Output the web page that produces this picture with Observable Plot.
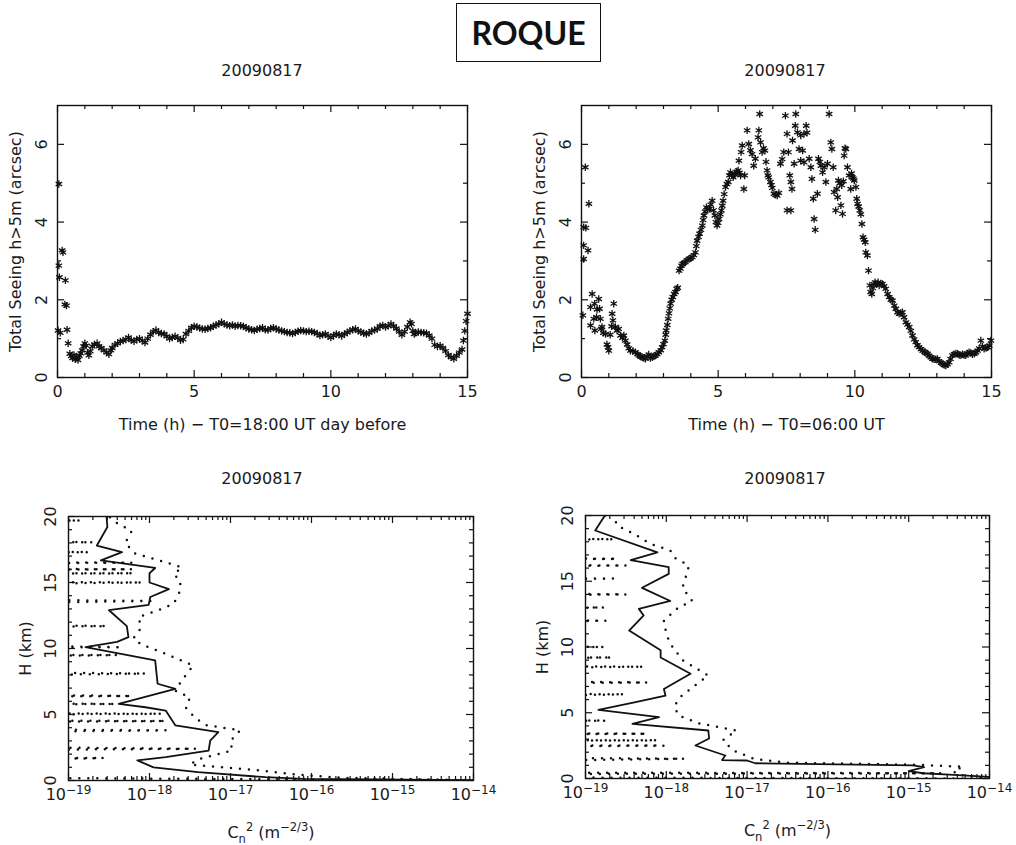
<!DOCTYPE html>
<html><head><meta charset="utf-8">
<script src="https://cdn.jsdelivr.net/npm/d3@7"></script>
<script src="https://cdn.jsdelivr.net/npm/@observablehq/plot@0.6"></script>
<style>
body{margin:0;background:#fff;}
#page{position:relative;width:1016px;height:845px;overflow:hidden;font-family:"DejaVu Sans",sans-serif;color:#1a1a1a;background:#fff;}
.panel{position:absolute;}
.sub{position:absolute;font-size:16px;transform:translate(-50%,-50%);white-space:nowrap;}
#title{position:absolute;left:456px;top:3px;width:143px;height:57px;border:1.5px solid #111;font-family:Lato,"Open Sans",sans-serif;font-weight:700;font-size:32px;display:flex;align-items:center;justify-content:center;color:#111;}
</style></head>
<body><div id="page">
<div id="title">ROQUE</div>
<div class="sub" style="left:262px;top:70px">20090817</div>
<div class="sub" style="left:785px;top:70px">20090817</div>
<div class="sub" style="left:262px;top:478px">20090817</div>
<div class="sub" style="left:785px;top:478px">20090817</div>
</div>
<script>
// ---------- data ----------
// Total seeing (arcsec) vs time (h), night (T0 = 18:00 UT day before)
const seeingNight = [[0.02,1.21],[0.05,4.98],[0.05,2.88],[0.07,2.58],[0.1,1.15],[0.17,3.27],[0.2,3.22],[0.27,1.88],[0.29,2.5],[0.33,1.85],[0.35,1.23],[0.39,0.88],
[0.45,0.61],[0.5,0.55],[0.55,0.5],[0.6,0.58],[0.65,0.47],[0.7,0.52],[0.75,0.45],[0.8,0.56],[0.85,0.62],[0.9,0.7],[0.95,0.8],[1.0,0.88],[1.05,0.82],[1.1,0.64],[1.15,0.57],[1.2,0.68],[1.27,0.8],[1.35,0.85],[1.45,0.88],[1.52,0.8],[1.6,0.76],[1.7,0.7],[1.8,0.64],[1.88,0.6],[1.95,0.7],[2.0,0.76],[2.1,0.84],[2.2,0.88],[2.3,0.93],[2.4,0.95],[2.5,0.98],[2.6,1.03],[2.7,0.96],[2.8,0.93],[2.9,0.98],[3.0,1.0],[3.1,0.95],[3.2,0.9],[3.3,1.0],[3.4,1.1],[3.5,1.18],[3.6,1.22],[3.7,1.16],[3.8,1.13],[3.9,1.12],[4.0,1.06],[4.1,1.0],[4.2,1.03],[4.3,1.06],[4.4,1.02],[4.5,0.96],[4.6,0.98],[4.7,1.12],[4.8,1.2],[4.9,1.28],[5.0,1.32],[5.1,1.3],[5.2,1.27],[5.3,1.25],[5.4,1.24],[5.5,1.26],[5.6,1.28],[5.7,1.32],[5.8,1.35],[5.9,1.38],[6.0,1.42],[6.1,1.38],[6.2,1.35],[6.3,1.33],[6.4,1.35],[6.5,1.32],[6.6,1.34],[6.7,1.33],[6.8,1.32],[6.9,1.28],[7.0,1.25],[7.1,1.23],[7.2,1.21],[7.3,1.24],[7.4,1.26],[7.5,1.28],[7.6,1.23],[7.7,1.22],[7.8,1.26],[7.9,1.28],[8.0,1.25],[8.1,1.22],[8.2,1.2],[8.3,1.18],[8.4,1.16],[8.5,1.15],[8.6,1.13],[8.7,1.16],[8.8,1.19],[8.9,1.21],[9.0,1.2],[9.1,1.18],[9.2,1.19],[9.3,1.18],[9.4,1.16],[9.5,1.13],[9.6,1.08],[9.7,1.1],[9.8,1.12],[9.9,1.07],[10.0,1.03],[10.1,1.08],[10.2,1.12],[10.3,1.1],[10.4,1.07],[10.5,1.12],[10.6,1.16],[10.7,1.2],[10.8,1.23],[10.9,1.25],[11.0,1.2],[11.1,1.17],[11.2,1.14],[11.3,1.12],[11.4,1.15],[11.5,1.2],[11.6,1.22],[11.7,1.25],[11.8,1.32],[11.9,1.34],[12.0,1.3],[12.1,1.33],[12.2,1.38],[12.3,1.32],[12.4,1.26],[12.5,1.18],[12.6,1.1],[12.7,1.18],[12.8,1.3],[12.9,1.42],[12.95,1.38],[13.0,1.2],[13.05,1.12],[13.1,1.15],[13.2,1.17],[13.3,1.16],[13.4,1.15],[13.5,1.14],[13.6,1.08],[13.7,1.0],[13.8,0.84],[13.9,0.8],[14.0,0.82],[14.1,0.76],[14.2,0.68],[14.3,0.58],[14.4,0.52],[14.5,0.48],[14.6,0.56],[14.7,0.64],[14.8,0.72],[14.85,0.95],[14.9,1.2],[14.95,1.45],[15.0,1.64]];

// Total seeing (arcsec) vs time (h), day (T0 = 06:00 UT)
const seeingDay = [[0.05,1.6],[0.08,3.05],[0.08,3.4],[0.08,3.87],[0.14,5.41],[0.16,3.85],[0.24,3.27],[0.27,4.47],[0.33,1.81],[0.33,1.34],[0.39,2.15],[0.45,1.51],[0.48,1.9],[0.49,1.21],[0.55,1.55],[0.57,1.75],[0.63,2.02],[0.66,1.77],[0.69,1.51],[0.72,1.25],[0.75,1.3],[0.8,1.15],[0.88,1.12],[0.93,0.85],[0.97,0.78],[1.0,0.69],[1.05,1.1],[1.1,1.32],[1.12,1.64],[1.15,1.47],[1.18,1.9],[1.24,1.3],[1.3,1.21],[1.36,1.25],[1.43,1.08],[1.5,1.02],[1.55,1.08],[1.61,0.95],[1.67,0.85],[1.73,0.75],[1.79,0.69],[1.88,0.68],[1.97,0.65],[2.05,0.6],[2.1,0.57],[2.16,0.54],[2.22,0.52],[2.28,0.5],[2.34,0.48],[2.4,0.55],[2.46,0.59],[2.52,0.5],[2.59,0.52],[2.65,0.55],[2.71,0.57],[2.77,0.6],[2.83,0.65],[2.9,0.7],[2.95,0.78],[3.0,0.86],[3.05,0.95],[3.08,1.1],[3.1,1.21],[3.14,1.35],[3.17,1.51],[3.2,1.65],[3.23,1.78],[3.26,1.9],[3.3,2.0],[3.34,2.07],[3.39,2.15],[3.44,2.2],[3.48,2.28],[3.52,2.31],[3.57,2.75],[3.62,2.8],[3.66,2.88],[3.7,2.92],[3.75,2.95],[3.8,2.97],[3.86,3.02],[3.93,3.05],[3.99,3.07],[4.05,3.1],[4.11,3.15],[4.17,3.22],[4.2,3.38],[4.23,3.52],[4.28,3.62],[4.32,3.7],[4.37,3.8],[4.42,3.91],[4.45,4.05],[4.48,4.17],[4.52,4.27],[4.57,4.38],[4.62,4.33],[4.68,4.34],[4.73,4.45],[4.78,4.55],[4.83,4.3],[4.88,4.17],[4.92,4.0],[4.96,3.91],[5.0,3.98],[5.03,4.08],[5.08,4.2],[5.12,4.3],[5.15,4.42],[5.18,4.55],[5.22,4.72],[5.27,4.9],[5.32,4.98],[5.37,5.03],[5.41,5.2],[5.45,5.28],[5.5,5.22],[5.55,5.15],[5.6,5.22],[5.63,5.24],[5.68,5.3],[5.73,5.33],[5.78,5.27],[5.82,5.2],[5.94,4.85],[5.97,5.2],[5.76,5.58],[5.84,5.8],[5.88,5.97],[6.06,6.36],[6.12,6.01],[6.18,5.85],[6.24,5.75],[6.3,5.45],[6.36,5.63],[6.46,6.18],[6.52,6.78],[6.49,6.36],[6.55,6.05],[6.61,5.8],[6.66,5.9],[6.71,5.84],[6.75,5.55],[6.79,5.33],[6.82,5.2],[6.85,5.15],[6.91,5.03],[6.95,4.95],[6.98,4.88],[7.04,4.73],[7.1,4.7],[7.16,4.68],[7.22,4.75],[7.28,5.5],[7.34,5.62],[7.4,5.8],[7.46,6.74],[7.52,6.27],[7.52,4.3],[7.57,5.8],[7.62,5.2],[7.66,5.03],[7.66,4.3],[7.7,4.85],[7.72,6.1],[7.78,5.5],[7.82,6.48],[7.84,6.78],[7.9,6.31],[7.96,5.88],[8.02,6.23],[8.02,5.58],[8.09,5.84],[8.14,6.27],[8.14,5.54],[8.22,6.48],[8.25,6.3],[8.33,5.63],[8.39,5.41],[8.43,5.11],[8.48,4.6],[8.51,4.08],[8.55,3.8],[8.63,4.73],[8.67,5.63],[8.72,5.55],[8.76,5.45],[8.82,5.28],[8.88,5.41],[8.94,5.03],[9.0,5.5],[9.06,6.78],[9.12,6.05],[9.16,5.88],[9.21,5.41],[9.24,4.77],[9.3,4.3],[9.34,4.85],[9.37,4.64],[9.4,5.07],[9.45,5.0],[9.49,4.43],[9.52,4.95],[9.55,4.21],[9.58,5.05],[9.61,5.71],[9.64,5.9],[9.67,5.88],[9.73,5.41],[9.79,5.2],[9.85,4.85],[9.88,5.25],[9.91,5.15],[9.95,5.12],[9.98,5.07],[10.04,4.9],[10.07,4.6],[10.1,4.47],[10.14,4.4],[10.18,4.3],[10.22,4.2],[10.26,3.95],[10.3,3.61],[10.34,3.55],[10.38,3.48],[10.4,3.22],[10.46,3.14],[10.5,2.75],[10.55,2.37],[10.58,2.2],[10.62,2.15],[10.66,2.3],[10.7,2.4],[10.74,2.45],[10.8,2.4],[10.85,2.45],[10.89,2.37],[10.95,2.42],[11.01,2.41],[11.07,2.35],[11.13,2.28],[11.2,2.15],[11.26,2.07],[11.32,2.0],[11.38,1.98],[11.44,1.85],[11.5,1.77],[11.56,1.68],[11.62,1.64],[11.68,1.66],[11.74,1.68],[11.8,1.55],[11.87,1.42],[11.93,1.36],[11.99,1.3],[12.05,1.2],[12.11,1.08],[12.17,0.98],[12.23,0.91],[12.29,0.83],[12.35,0.78],[12.42,0.73],[12.48,0.69],[12.55,0.66],[12.6,0.63],[12.66,0.61],[12.72,0.56],[12.78,0.52],[12.84,0.48],[12.9,0.47],[12.96,0.47],[13.02,0.48],[13.08,0.42],[13.15,0.38],[13.21,0.35],[13.27,0.32],[13.33,0.31],[13.39,0.34],[13.45,0.39],[13.5,0.48],[13.57,0.57],[13.63,0.6],[13.7,0.62],[13.76,0.61],[13.82,0.58],[13.88,0.57],[13.94,0.6],[14.0,0.58],[14.06,0.57],[14.12,0.62],[14.18,0.65],[14.24,0.63],[14.3,0.6],[14.37,0.61],[14.43,0.65],[14.49,0.69],[14.55,0.75],[14.61,0.95],[14.67,0.8],[14.73,0.74],[14.8,0.76],[14.86,0.78],[14.92,0.82],[14.98,0.95]];

// Cn2 profiles: [H (km), log10 Cn2 (m^-2/3)]
const nightMedian = [[0.03,-14.0],[0.12,-16.1],[0.25,-16.57],[0.63,-17.4],[1.0,-17.95],[1.52,-18.15],[1.77,-17.8],[2.27,-17.27],[3.03,-17.25],[3.66,-17.15],[4.17,-17.68],[5.3,-17.8],[5.55,-18.05],[5.8,-18.38],[6.95,-17.68],[7.33,-17.9],[9.1,-17.93],[10.1,-18.79],[10.5,-18.4],[10.86,-18.26],[11.7,-18.28],[12.9,-18.5],[13.3,-18.01],[13.9,-17.99],[14.5,-17.76],[15.0,-18.0],[15.7,-18.0],[16.1,-17.93],[16.67,-18.6],[17.3,-18.34],[17.8,-18.65],[19.2,-18.52],[20.0,-18.53]];
const nightUpper = [[0.02,-14.0],[0.2,-15.6],[0.45,-16.2],[0.8,-16.7],[1.2,-17.5],[1.6,-17.4],[2.27,-16.98],[3.0,-17.0],[3.8,-16.88],[4.2,-17.3],[4.7,-17.43],[5.5,-17.55],[6.3,-17.5],[6.8,-17.68],[7.6,-17.6],[8.7,-17.46],[9.6,-17.8],[10.3,-18.1],[10.76,-18.2],[11.5,-18.11],[12.4,-18.13],[13.0,-17.85],[13.4,-17.7],[14.4,-17.62],[15.15,-17.62],[15.6,-17.7],[16.16,-17.6],[16.7,-17.9],[17.2,-18.18],[18.0,-18.3],[18.9,-18.22],[19.5,-18.4],[20.0,-18.5]];
const nightLower = [[0.02,-14.2],[0.1,-16.6],[0.5,-30],[1.7,-18.57],[2.0,-30],[2.4,-17.43],[3.1,-30],[3.8,-17.8],[4.2,-30],[4.5,-17.8],[4.8,-30],[5.05,-17.85],[5.4,-30],[5.8,-18.42],[6.1,-30],[6.4,-18.22],[7.2,-30],[8.1,-18.05],[8.8,-30],[9.5,-18.4],[9.8,-30],[10.1,-18.34],[10.9,-30],[11.7,-18.53],[12.6,-30],[13.6,-17.99],[14.3,-30],[15.0,-18.09],[15.35,-30],[15.7,-18.2],[15.85,-30],[16.0,-18.22],[16.25,-30],[16.5,-18.22],[16.9,-30],[17.3,-18.75],[17.7,-30],[18.05,-18.7],[18.9,-30],[19.7,-18.85],[20.0,-30]];

const dayMedian = [[0.05,-13.8],[0.3,-14.5],[0.4,-14.82],[0.56,-15.0],[0.87,-14.81],[1.0,-14.95],[1.16,-16.9],[1.37,-17.0],[1.4,-17.31],[1.75,-17.27],[2.51,-17.64],[3.04,-17.47],[3.65,-17.48],[4.16,-18.42],[4.66,-18.09],[5.22,-18.84],[5.8,-18.38],[6.3,-18.01],[6.8,-18.03],[7.96,-17.7],[9.2,-18.07],[9.75,-18.07],[11.25,-18.46],[12.4,-18.28],[12.9,-18.34],[13.5,-17.95],[14.5,-18.3],[15.56,-17.97],[16.07,-17.97],[16.6,-18.44],[17.2,-18.11],[18.86,-18.88],[19.9,-18.77],[20.0,-18.75]];
const dayUpper = [[0.02,-14.0],[0.3,-14.4],[0.6,-14.45],[0.89,-14.32],[1.05,-14.9],[1.2,-16.5],[1.5,-16.92],[2.13,-17.17],[2.9,-17.3],[3.65,-17.13],[4.2,-17.6],[4.79,-17.85],[5.5,-17.9],[6.18,-17.83],[7.3,-17.6],[7.83,-17.48],[9.0,-17.8],[10.24,-17.95],[11.0,-18.0],[12.0,-18.03],[13.0,-17.85],[13.5,-17.68],[14.5,-17.8],[15.5,-17.75],[16.2,-17.72],[16.8,-17.9],[17.34,-17.95],[17.85,-18.2],[18.6,-18.4],[19.24,-18.61],[20.0,-18.65]];
const dayLower = [[0.0,-14.0],[0.22,-30],[0.4,-14.6],[0.55,-30],[1.5,-17.78],[2.0,-30],[2.5,-18.03],[2.7,-30],[2.9,-18.11],[3.15,-30],[3.4,-18.24],[3.9,-30],[4.4,-18.75],[5.4,-30],[6.4,-18.52],[6.9,-30],[7.3,-18.24],[7.9,-30],[8.5,-18.28],[8.85,-30],[9.2,-18.67],[9.6,-30],[10.0,-18.77],[11.0,-30],[12.0,-18.75],[12.5,-30],[13.0,-18.77],[13.5,-30],[14.0,-18.5],[14.6,-30],[15.2,-18.66],[15.7,-30],[16.2,-18.5],[16.45,-30],[16.7,-18.61],[17.4,-30],[18.2,-18.65],[19.0,-30],[20.0,-30]];

// tick values
const timeMajor = [0, 5, 10, 15];
const timeMinor = [1, 2, 3, 4, 6, 7, 8, 9, 11, 12, 13, 14];
const seeingMajor = [0, 2, 4, 6];
const seeingMinor = [1, 3, 5];
const cn2Major = [1e-19, 1e-18, 1e-17, 1e-16, 1e-15, 1e-14];
const cn2Minor = [];
for (const dec of [1e-19, 1e-18, 1e-17, 1e-16, 1e-15]) for (const m of [2,3,4,5,6,7,8,9]) cn2Minor.push(m * dec);
const heightMajor = [0, 5, 10, 15, 20];
const heightMinor = [1,2,3,4,6,7,8,9,11,12,13,14,16,17,18,19];

const subtitle = "20090817";
const ink = "#111";
const textInk = "#1a1a1a";
const NS = "http://www.w3.org/2000/svg";

function panel(cfg) {
  const {left, top, width, height, mt, mr, mb, ml} = cfg;
  const iw = width - ml - mr, ih = height - mt - mb;
  const big = 7, small = 4;
  const svg = Plot.plot({
    width, height, marginTop: mt, marginRight: mr, marginBottom: mb, marginLeft: ml,
    style: {fontFamily: '"DejaVu Sans", sans-serif', fontSize: "16px", color: textInk, background: "transparent", overflow: "visible"},
    x: cfg.x, y: cfg.y,
    marks: [
      ...cfg.marks,
      Plot.tickX(cfg.xMajor, {x: d => d, insetTop: ih - big, stroke: ink, strokeWidth: 1.2}),
      Plot.tickX(cfg.xMajor, {x: d => d, insetBottom: ih - big, stroke: ink, strokeWidth: 1.2}),
      Plot.tickX(cfg.xMinor, {x: d => d, insetTop: ih - small, stroke: ink, strokeWidth: 1.2}),
      Plot.tickX(cfg.xMinor, {x: d => d, insetBottom: ih - small, stroke: ink, strokeWidth: 1.2}),
      Plot.tickY(cfg.yMajor, {y: d => d, insetRight: iw - big, stroke: ink, strokeWidth: 1.2}),
      Plot.tickY(cfg.yMajor, {y: d => d, insetLeft: iw - big, stroke: ink, strokeWidth: 1.2}),
      Plot.tickY(cfg.yMinor, {y: d => d, insetRight: iw - small, stroke: ink, strokeWidth: 1.2}),
      Plot.tickY(cfg.yMinor, {y: d => d, insetLeft: iw - small, stroke: ink, strokeWidth: 1.2}),
      Plot.frame({stroke: ink, strokeWidth: 1.4}),
      Plot.axisX({ticks: cfg.xMajor, tickSize: 0, tickPadding: 8, tickFormat: cfg.xFormat, label: cfg.xLabel, labelAnchor: "center", labelOffset: cfg.xLabelOffset, labelArrow: "none", fill: textInk}),
      Plot.axisY({ticks: cfg.yMajor, tickSize: 0, tickPadding: cfg.yTickPad, tickRotate: -90, tickFormat: d => String(d), label: cfg.yLabel, labelAnchor: "center", labelOffset: cfg.yLabelOffset, labelArrow: "none", fill: textInk})
    ]
  });
  const wrap = document.createElement("div");
  wrap.className = "panel";
  wrap.style.left = left + "px";
  wrap.style.top = top + "px";
  wrap.appendChild(svg);
  document.getElementById("page").appendChild(wrap);
  return svg;
}

function setRich(textEl, parts) {
  textEl.textContent = "";
  for (const [s, dy, fs] of parts) {
    const ts = document.createElementNS(NS, "tspan");
    ts.textContent = s;
    ts.setAttribute("fill", textInk);
    if (dy) ts.setAttribute("dy", dy);
    if (fs) ts.setAttribute("font-size", fs);
    textEl.appendChild(ts);
  }
}

function fixLog(svg) {
  svg.querySelectorAll('g[aria-label="x-axis tick label"] text').forEach(t => {
    const m = t.textContent.match(/^10\^(.+)$/);
    if (m) setRich(t, [["10"], [m[1], "-6", "12"]]);
  });
  const lab = svg.querySelector('g[aria-label="x-axis label"] text');
  if (lab) setRich(lab, [["C"], ["n", "5", "11.5"], ["2", "-12", "11.5"], [" (m", "7"], ["\u22122/3", "-7", "11.5"], [")", "7"]]);
}

const logFmt = d => "10^" + String(Math.round(Math.log10(d))).replace("-", "\u2212");
const starOpts = {symbol: "asterisk", r: 3.5, stroke: ink, strokeWidth: 1.3};
const solid = {stroke: ink, strokeWidth: 1.8, clip: true};
const dotted = {stroke: ink, strokeWidth: 2.5, strokeDasharray: "0 9", strokeLinecap: "round", clip: true};

panel({left: 0, top: 90, width: 490, height: 350, mt: 15, mr: 23, mb: 63, ml: 57,
  x: {domain: [0, 15]}, y: {domain: [0, 7]},
  xMajor: timeMajor, xMinor: timeMinor, yMajor: seeingMajor, yMinor: seeingMinor,
  xFormat: d => String(d), xLabel: "Time (h) \u2212 T0=18:00 UT day before", xLabelOffset: 52,
  yLabel: "Total Seeing h>5m (arcsec)", yLabelOffset: 48, yTickPad: 11,
  marks: [Plot.dot(seeingNight, {x: d => d[0], y: d => d[1], ...starOpts})]
});

panel({left: 508, top: 90, width: 508, height: 350, mt: 15, mr: 25, mb: 63, ml: 73,
  x: {domain: [0, 15]}, y: {domain: [0, 7]},
  xMajor: timeMajor, xMinor: timeMinor, yMajor: seeingMajor, yMinor: seeingMinor,
  xFormat: d => String(d), xLabel: "Time (h) \u2212 T0=06:00 UT", xLabelOffset: 52,
  yLabel: "Total Seeing h>5m (arcsec)", yLabelOffset: 48, yTickPad: 11,
  marks: [Plot.dot(seeingDay, {x: d => d[0], y: d => d[1], ...starOpts})]
});

const bl = panel({left: 0, top: 500, width: 490, height: 345, mt: 16, mr: 17, mb: 65, ml: 68,
  x: {type: "log", domain: [1e-19, 1e-14]}, y: {domain: [0, 20]},
  xMajor: cn2Major, xMinor: cn2Minor, yMajor: heightMajor, yMinor: heightMinor,
  xFormat: logFmt, xLabel: "Cn2 (m-2/3)", xLabelOffset: 57,
  yLabel: "H (km)", yLabelOffset: 49, yTickPad: 13,
  marks: [
    Plot.line(nightLower, {x: d => 10 ** d[1], y: d => d[0], ...dotted}),
    Plot.line(nightUpper, {x: d => 10 ** d[1], y: d => d[0], ...dotted}),
    Plot.line(nightMedian, {x: d => 10 ** d[1], y: d => d[0], ...solid})
  ]
});
fixLog(bl);

const br = panel({left: 508, top: 500, width: 508, height: 345, mt: 15, mr: 27, mb: 67, ml: 77,
  x: {type: "log", domain: [1e-19, 1e-14]}, y: {domain: [0, 20]},
  xMajor: cn2Major, xMinor: cn2Minor, yMajor: heightMajor, yMinor: heightMinor,
  xFormat: logFmt, xLabel: "Cn2 (m-2/3)", xLabelOffset: 57,
  yLabel: "H (km)", yLabelOffset: 49, yTickPad: 13,
  marks: [
    Plot.line(dayLower, {x: d => 10 ** d[1], y: d => d[0], ...dotted}),
    Plot.line(dayUpper, {x: d => 10 ** d[1], y: d => d[0], ...dotted}),
    Plot.line(dayMedian, {x: d => 10 ** d[1], y: d => d[0], ...solid})
  ]
});
fixLog(br);

document.querySelectorAll(".sub").forEach(el => el.textContent = subtitle);
</script>
</body></html>
